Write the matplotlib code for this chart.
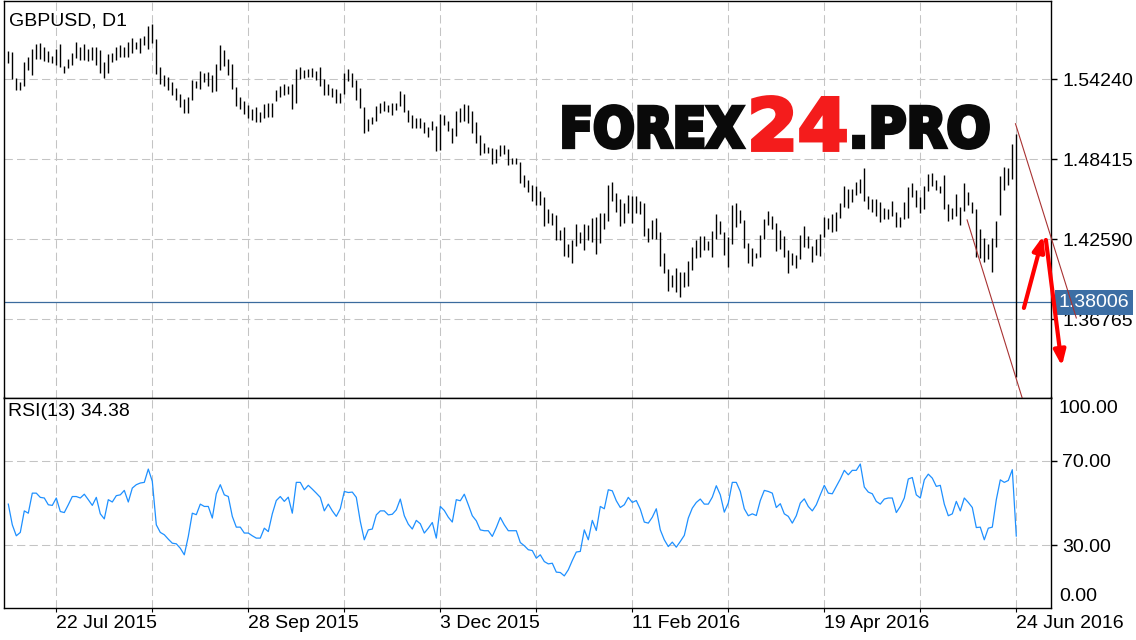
import numpy as np
import matplotlib.pyplot as plt
from matplotlib.transforms import Affine2D, blended_transform_factory
from matplotlib.textpath import TextPath
from matplotlib.patches import PathPatch
from matplotlib.font_manager import FontProperties

plt.rcParams['font.family'] = ['Liberation Sans', 'DejaVu Sans']

# daily bars, GBPUSD D1 (high / low per bar)
high = [1.5630, 1.5623, 1.5434, 1.5404, 1.5550, 1.5586, 1.5645, 1.5681, 1.5688, 1.5659,
        1.5630, 1.5594, 1.5645, 1.5681, 1.5521, 1.5572, 1.5616, 1.5695, 1.5659, 1.5681,
        1.5645, 1.5659, 1.5659, 1.5637, 1.5550, 1.5608, 1.5616, 1.5659, 1.5674, 1.5659,
        1.5695, 1.5725, 1.5695, 1.5725, 1.5739, 1.5812, 1.5826, 1.5717, 1.5513, 1.5455,
        1.5441, 1.5404, 1.5361, 1.5317, 1.5281, 1.5295, 1.5419, 1.5412, 1.5484, 1.5470,
        1.5477, 1.5455, 1.5535, 1.5674, 1.5637, 1.5572, 1.5535, 1.5368, 1.5295, 1.5266,
        1.5237, 1.5208, 1.5222, 1.5186, 1.5244, 1.5252, 1.5252, 1.5346, 1.5375, 1.5390,
        1.5375, 1.5390, 1.5499, 1.5513, 1.5492, 1.5499, 1.5506, 1.5484, 1.5513, 1.5426,
        1.5390, 1.5361, 1.5353, 1.5324, 1.5470, 1.5499, 1.5470, 1.5419, 1.5361, 1.5222,
        1.5135, 1.5150, 1.5230, 1.5252, 1.5266, 1.5237, 1.5252, 1.5252, 1.5339, 1.5317,
        1.5201, 1.5164, 1.5142, 1.5142, 1.5113, 1.5077, 1.5120, 1.5084, 1.5171, 1.5164,
        1.5120, 1.5070, 1.5193, 1.5215, 1.5244, 1.5237, 1.5193, 1.5113, 1.5019, 1.4960,
        1.4931, 1.4924, 1.4917, 1.4946, 1.4946, 1.4917, 1.4851, 1.4851, 1.4822, 1.4727,
        1.4691, 1.4654, 1.4647, 1.4611, 1.4567, 1.4480, 1.4451, 1.4436, 1.4327, 1.4349,
        1.4225, 1.4254, 1.4370, 1.4312, 1.4370, 1.4363, 1.4414, 1.4421, 1.4451, 1.4451,
        1.4654, 1.4676, 1.4596, 1.4552, 1.4523, 1.4582, 1.4574, 1.4574, 1.4538, 1.4523,
        1.4341, 1.4399, 1.4414, 1.4312, 1.4159, 1.4043, 1.3999, 1.4050, 1.4021, 1.4021,
        1.4101, 1.4203, 1.4254, 1.4283, 1.4283, 1.4247, 1.4319, 1.4443, 1.4392, 1.4312,
        1.4276, 1.4508, 1.4523, 1.4472, 1.4399, 1.4232, 1.4196, 1.4159, 1.4290, 1.4407,
        1.4465, 1.4429, 1.4378, 1.4327, 1.4283, 1.4181, 1.4159, 1.4145, 1.4290, 1.4356,
        1.4283, 1.4210, 1.4261, 1.4297, 1.4421, 1.4414, 1.4443, 1.4458, 1.4523, 1.4647,
        1.4625, 1.4625, 1.4676, 1.4698, 1.4778, 1.4574, 1.4552, 1.4552, 1.4530, 1.4487,
        1.4480, 1.4538, 1.4458, 1.4421, 1.4530, 1.4640, 1.4669, 1.4618, 1.4567, 1.4647,
        1.4734, 1.4742, 1.4691, 1.4647, 1.4727, 1.4516, 1.4487, 1.4589, 1.4494, 1.4669,
        1.4603, 1.4530, 1.4480, 1.4334, 1.4268, 1.4225, 1.4268, 1.4392, 1.4720, 1.4785,
        1.4778, 1.4953, 1.5026]

low = [1.5543, 1.5426, 1.5346, 1.5346, 1.5375, 1.5492, 1.5455, 1.5572, 1.5572, 1.5557,
       1.5550, 1.5543, 1.5528, 1.5513, 1.5470, 1.5506, 1.5528, 1.5579, 1.5565, 1.5565,
       1.5557, 1.5565, 1.5528, 1.5470, 1.5434, 1.5470, 1.5550, 1.5565, 1.5586, 1.5586,
       1.5586, 1.5616, 1.5645, 1.5616, 1.5674, 1.5645, 1.5688, 1.5462, 1.5390, 1.5375,
       1.5346, 1.5310, 1.5273, 1.5222, 1.5179, 1.5179, 1.5273, 1.5361, 1.5353, 1.5404,
       1.5375, 1.5332, 1.5339, 1.5492, 1.5521, 1.5455, 1.5353, 1.5230, 1.5208, 1.5171,
       1.5142, 1.5128, 1.5113, 1.5113, 1.5142, 1.5150, 1.5150, 1.5266, 1.5295, 1.5310,
       1.5317, 1.5208, 1.5252, 1.5426, 1.5434, 1.5441, 1.5441, 1.5419, 1.5375, 1.5310,
       1.5310, 1.5295, 1.5252, 1.5252, 1.5317, 1.5412, 1.5368, 1.5273, 1.5215, 1.5033,
       1.5048, 1.5099, 1.5120, 1.5179, 1.5193, 1.5186, 1.5164, 1.5201, 1.5230, 1.5186,
       1.5113, 1.5070, 1.5070, 1.5070, 1.5033, 1.5004, 1.5055, 1.4902, 1.4909, 1.5091,
       1.5048, 1.4960, 1.5011, 1.5113, 1.5120, 1.5106, 1.5033, 1.4960, 1.4873, 1.4887,
       1.4887, 1.4810, 1.4818, 1.4866, 1.4880, 1.4800, 1.4807, 1.4810, 1.4669, 1.4640,
       1.4603, 1.4538, 1.4508, 1.4508, 1.4356, 1.4378, 1.4363, 1.4254, 1.4254, 1.4137,
       1.4130, 1.4086, 1.4210, 1.4232, 1.4181, 1.4254, 1.4239, 1.4152, 1.4232, 1.4334,
       1.4392, 1.4538, 1.4458, 1.4356, 1.4378, 1.4451, 1.4378, 1.4451, 1.4443, 1.4283,
       1.4239, 1.4261, 1.4261, 1.4065, 1.4014, 1.3883, 1.3912, 1.3876, 1.3839, 1.3912,
       1.3919, 1.4036, 1.4123, 1.4130, 1.4181, 1.4181, 1.4130, 1.4261, 1.4297, 1.4145,
       1.4057, 1.4225, 1.4349, 1.4378, 1.4196, 1.4086, 1.4065, 1.4123, 1.4130, 1.4261,
       1.4363, 1.4334, 1.4174, 1.4188, 1.4130, 1.4014, 1.4072, 1.4050, 1.4116, 1.4203,
       1.4196, 1.4094, 1.4145, 1.4137, 1.4276, 1.4334, 1.4312, 1.4319, 1.4414, 1.4494,
       1.4487, 1.4531, 1.4582, 1.4596, 1.4538, 1.4480, 1.4458, 1.4429, 1.4385, 1.4407,
       1.4407, 1.4429, 1.4349, 1.4349, 1.4407, 1.4414, 1.4567, 1.4494, 1.4451, 1.4480,
       1.4611, 1.4647, 1.4618, 1.4596, 1.4480, 1.4392, 1.4407, 1.4429, 1.4363, 1.4465,
       1.4508, 1.4451, 1.4130, 1.4123, 1.4094, 1.4116, 1.4021, 1.4203, 1.4436, 1.4618,
       1.4654, 1.4698, 1.3256]

rsi = [49.5, 39.7, 34.5, 36.1, 46.3, 45.2, 54.7, 54.7, 52.7, 52.4,
       49.2, 48.9, 52.4, 46.0, 45.5, 49.2, 53.1, 53.1, 52.4, 54.2,
       51.6, 48.9, 52.7, 44.9, 42.5, 51.6, 50.5, 53.5, 53.9, 56.0,
       50.5, 57.1, 58.7, 59.5, 59.8, 66.1, 60.3, 39.7, 36.1, 35.0,
       32.9, 31.0, 30.7, 28.6, 25.5, 34.2, 45.2, 44.5, 49.5, 48.4,
       48.4, 42.9, 54.4, 58.7, 53.9, 53.1, 43.7, 38.6, 38.6, 35.8,
       35.8, 34.5, 33.4, 33.4, 38.1, 36.5, 44.9, 51.2, 53.1, 50.8,
       52.8, 45.2, 59.8, 59.8, 56.3, 58.4, 56.6, 54.7, 52.7, 46.3,
       49.5, 46.3, 43.7, 47.3, 55.5, 55.0, 55.2, 52.7, 41.3, 32.6,
       37.3, 37.7, 44.4, 46.3, 46.3, 44.4, 44.7, 46.8, 51.9, 44.0,
       40.0, 37.7, 41.8, 40.2, 35.8, 38.1, 40.8, 33.4, 48.4, 46.5,
       43.3, 41.0, 51.6, 51.1, 54.2, 49.2, 44.0, 41.6, 37.3, 36.9,
       36.9, 34.2, 38.4, 43.2, 39.7, 36.9, 36.9, 36.9, 31.3, 29.8,
       27.9, 27.5, 23.9, 25.5, 22.3, 21.2, 21.5, 17.3, 17.1, 15.5,
       18.4, 22.8, 26.8, 27.1, 37.3, 32.6, 41.8, 37.0, 48.4, 47.3,
       56.3, 55.8, 51.1, 47.9, 49.2, 52.7, 50.3, 51.2, 47.1, 41.0,
       40.5, 43.3, 47.3, 37.3, 32.6, 29.4, 31.5, 29.1, 31.8, 34.7,
       42.9, 47.6, 50.3, 51.9, 49.5, 49.5, 52.8, 58.2, 53.9, 45.7,
       50.0, 59.8, 59.8, 55.5, 47.3, 44.0, 44.9, 44.1, 51.2, 56.0,
       55.5, 54.7, 47.9, 49.7, 44.9, 43.7, 40.5, 44.0, 50.0, 52.0,
       48.4, 46.3, 49.2, 53.9, 58.4, 54.7, 54.4, 57.9, 61.4, 65.5,
       63.4, 65.5, 65.5, 68.5, 57.6, 55.2, 54.4, 50.8, 49.5, 51.9,
       52.4, 52.4, 45.5, 48.4, 52.4, 61.4, 62.1, 53.9, 52.4, 61.0,
       63.7, 61.8, 57.9, 58.4, 49.5, 44.0, 44.9, 50.8, 46.3, 52.4,
       50.3, 47.9, 38.4, 38.6, 32.6, 38.1, 38.6, 51.6, 61.0, 59.8,
       60.7, 65.8, 34.38]

last_close = 1.38006
price_levels = [1.54240, 1.48415, 1.42590, 1.36765]
rsi_levels = [30, 70]
date_labels = ['22 Jul 2015', '28 Sep 2015', '3 Dec 2015', '11 Feb 2016', '19 Apr 2016', '24 Jun 2016']
date_bars = [12, 60, 108, 156, 204, 252]

# hand drawn channel and arrows (bar index, price)
channel_up = [(251.8, 1.5100), (267.0, 1.3686)]
channel_dn = [(239.7, 1.4400), (254.4, 1.3016)]
arrow_up = [(253.9, 1.3759), (258.7, 1.4283)]
arrow_dn = [(259.4, 1.4254), (263.4, 1.3336)]

W, H = 1136, 640
fig = plt.figure(figsize=(W / 100, H / 100), dpi=100)
ax1 = fig.add_axes([4 / W, 1 - 397.5 / H, 1047 / W, 396.5 / H])
ax2 = fig.add_axes([4 / W, 1 - 608 / H, 1047 / W, 210.5 / H])

grid_kw = dict(color='#c4c4c4', lw=0.75, ls=(0, (8, 4)))
fs = 14
x = np.arange(len(high))
grid_bars = list(range(12, len(high), 24))

# price panel
ax1.vlines(x, low, high, color='black', lw=1.0, zorder=3)
ax1.axhline(last_close, color='#3b6b9e', lw=0.9, zorder=2)
ax1.set_xlim(-1.075, 260.675)
ax1.set_ylim(1.3107, 1.5994)
ax1.set_xticks(grid_bars)
ax1.tick_params(axis='x', length=0, labelbottom=False)
ax1.yaxis.tick_right()
ax1.set_yticks(price_levels, labels=['%.5f' % v for v in price_levels])
ax1.tick_params(axis='y', length=4, width=1, pad=4, labelsize=fs)
ax1.grid(True, **grid_kw)
ax1.set_axisbelow(True)
ax1.text(9 / W, 1 - 25 / H, 'GBPUSD, D1', transform=fig.transFigure, fontsize=fs, va='baseline')

ax1.annotate('%.5f' % last_close, xy=(1, last_close), xycoords=('axes fraction', 'data'),
             xytext=(5.6, 0), textcoords='offset points', va='center', ha='left',
             color='white', fontsize=fs, zorder=10, annotation_clip=False,
             bbox=dict(boxstyle='square,pad=0.2', fc='#3c6ea4', ec='none'))

for (x0, y0), (x1, y1) in [channel_up, channel_dn]:
    ax1.plot([x0, x1], [y0, y1], color='#a83232', lw=0.8, clip_on=False, zorder=11)
for tail, head in [arrow_up, arrow_dn]:
    ax1.annotate('', xy=head, xytext=tail, annotation_clip=False, zorder=12,
                 arrowprops=dict(arrowstyle='-|>,head_length=0.9,head_width=0.35',
                                 color='#ff0000', lw=3, shrinkA=0, shrinkB=0))

# rsi panel
ax2.plot(x, rsi, color='#1e90ff', lw=0.9)
ax2.set_xlim(ax1.get_xlim())
ax2.set_ylim(0.3, 100)
ax2.set_xticks(grid_bars, labels=[date_labels[date_bars.index(b)] if b in date_bars else '' for b in grid_bars])
plt.setp(ax2.get_xticklabels(), ha='left')
ax2.tick_params(axis='x', length=3, pad=2, labelsize=fs)
ax2.yaxis.tick_right()
ax2.set_yticks(rsi_levels, labels=['%.2f' % v for v in rsi_levels])
ax2.tick_params(axis='y', length=4, width=1, pad=4, labelsize=fs)
ax2.grid(True, **grid_kw)
ax2.set_axisbelow(True)
tr = blended_transform_factory(ax2.transAxes, ax2.transData)
ax2.annotate('100.00', xy=(1, 100), xycoords=tr, xytext=(5.6, -2), textcoords='offset points',
             va='top', ha='left', fontsize=fs, annotation_clip=False)
ax2.annotate('0.00', xy=(1, 0.3), xycoords=tr, xytext=(5.6, 2), textcoords='offset points',
             va='bottom', ha='left', fontsize=fs, annotation_clip=False)
ax2.text(8 / W, 1 - 416 / H, 'RSI(13) %.2f' % rsi[-1], transform=fig.transFigure,
         fontsize=fs, va='baseline')

for ax in (ax1, ax2):
    for s in ax.spines.values():
        s.set_color('black')
        s.set_linewidth(1)

# watermark, fitted into pixel boxes and thickened with a same-colour stroke
def logo(txt, left, right, top, bottom, color):
    tp = TextPath((0, 0), txt, size=100, prop=FontProperties(family='DejaVu Sans', weight='bold'))
    e = tp.get_extents()
    t = (Affine2D().translate(-e.x0, -e.y0)
         .scale((right - left) / e.width, (bottom - top) / e.height)
         .translate(left, H - bottom).scale(1 / W, 1 / H))
    fig.add_artist(PathPatch(tp, transform=t + fig.transFigure, fc=color,
                             ec=color, lw=2.8, joinstyle='miter', zorder=5))

logo('FOREX', 564, 743, 106, 148, '#0a0a0a')
logo('24', 753, 845, 97, 150, '#f41c1c')
logo('.PRO', 854, 988, 106, 148, '#0a0a0a')

fig.savefig('out.png', dpi=100)
